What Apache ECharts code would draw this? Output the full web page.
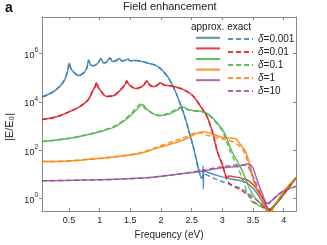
<!DOCTYPE html>
<html><head><meta charset="utf-8">
<script src="https://cdn.jsdelivr.net/npm/echarts@6/dist/echarts.min.js"></script>
<style>html,body{margin:0;padding:0;background:#fff}#c{width:327px;height:245px}</style>
</head><body><div id="c"></div>
<script>
// ---- data ----
const xTicks = [0.5, 1, 1.5, 2, 2.5, 3, 3.5, 4];
const yTicks = [1, 100, 1e4, 1e6];
const deltas = ['0.001', '0.01', '0.1', '1', '10'];

// delta = 0.001  ([frequency eV, |E/E0|])
const d001Common = [[0.06,1.6e4],[0.2,2.3e4],[0.3,3.4e4],[0.4,6.3e4],[0.45,1.1e5],[0.48,2.0e5],[0.505,4.0e5],[0.53,2.5e5],[0.57,1.8e5],[0.65,1.26e5],[0.74,1.6e5],[0.79,2.5e5],[0.82,5.4e5],[0.85,3.5e5],[0.9,3.2e5],[0.97,4.0e5],[1.02,6.3e5],[1.06,4.2e5],[1.1,4.3e5],[1.17,6.6e5],[1.21,4.7e5],[1.27,5.2e5],[1.32,6.3e5],[1.36,5.0e5],[1.42,5.4e5],[1.46,5.9e5],[1.5,5.1e5],[1.56,5.2e5],[1.6,5.2e5],[1.7,4.7e5],[1.8,4.0e5],[1.92,3.2e5],[2.0,2.3e5],[2.06,1.6e5],[2.13,9.3e4],[2.19,4.7e4],[2.26,1.9e4],[2.33,6.3e3],[2.4,1.9e3],[2.46,540],[2.52,160],[2.57,47],[2.62,14],[2.66,7.1]];
const d001ApproxTail = [[2.68,8.9],[2.685,22],[2.69,2.5],[2.7,14],[2.73,13],[2.95,8.5],[3.16,6.3],[3.38,4.7],[3.51,2.5],[3.62,1.0],[3.7,0.54],[3.76,0.34],[3.84,0.47],[3.97,1.2],[4.2,7.5]];
const d001ExactTail = [[2.68,7.9],[2.7,11],[2.73,10],[2.83,7.6],[2.95,5.6],[3.11,4.0],[3.32,2.5],[3.43,1.6],[3.55,0.9],[3.63,0.63],[3.72,0.36],[3.76,0.32],[3.84,0.47],[3.97,1.2],[4.2,7.5]];

// delta = 0.01
const d01Common = [[0.06,1.9e3],[0.19,2.1e3],[0.35,2.7e3],[0.51,4.0e3],[0.67,6.3e3],[0.81,1.2e4],[0.89,3.0e4],[0.93,4.5e4],[0.945,6.3e4],[0.97,4.5e4],[1.0,3.3e4],[1.11,1.7e4],[1.24,1.9e4],[1.35,3.4e4],[1.42,5.6e4],[1.44,7.4e4],[1.48,5.2e4],[1.59,3.6e4],[1.71,4.8e4],[1.77,7.4e4],[1.81,5.2e4],[1.88,4.3e4],[1.95,5.2e4],[1.99,6.3e4],[2.05,5.0e4],[2.14,4.7e4],[2.22,4.3e4],[2.35,3.4e4],[2.51,1.9e4],[2.65,6.3e3],[2.75,2.5e3],[2.84,540],[2.92,85],[3.0,25]];
const d01ApproxTail = [[3.08,7.4],[3.11,8.5],[3.2,7.9],[3.32,6.8],[3.43,5.4],[3.56,2.5],[3.68,0.83],[3.76,0.36],[3.84,0.5],[3.97,1.2],[4.2,7.1]];
const d01ExactTail = [[3.08,5.6],[3.16,3.4],[3.27,2.5],[3.43,1.35],[3.51,0.74],[3.62,0.5],[3.72,0.35],[3.76,0.32],[3.84,0.5],[3.97,1.2],[4.2,7.1]];

// delta = 0.1
const d1Approx = [[0.06,230],[0.19,250],[0.46,300],[0.73,400],[1.0,580],[1.27,1000],[1.49,2.5e3],[1.62,5.4e3],[1.7,7.8e3],[1.78,4.7e3],[1.97,2.7e3],[2.13,3.2e3],[2.27,4.7e3],[2.35,6.3e3],[2.46,4.7e3],[2.57,4.3e3],[2.68,4.0e3],[2.78,3.0e3],[2.89,1.6e3],[3.03,540],[3.16,85],[3.3,19],[3.38,6.3],[3.43,3.0],[3.54,1.0],[3.67,0.47],[3.76,0.32],[3.84,0.47],[3.97,1.2],[4.2,7.1]];
const d1Exact = [[0.06,230],[0.19,250],[0.46,300],[0.73,410],[1.0,600],[1.27,1.1e3],[1.49,2.9e3],[1.6,6.0e3],[1.67,8.3e3],[1.75,5.0e3],[1.95,2.8e3],[2.12,3.4e3],[2.25,5.0e3],[2.32,6.0e3],[2.43,4.7e3],[2.57,4.2e3],[2.68,3.8e3],[2.78,2.8e3],[2.86,1.8e3],[3.0,630],[3.12,100],[3.25,20],[3.33,6.3],[3.4,2.0],[3.47,0.8],[3.55,0.56],[3.65,0.45],[3.72,0.35],[3.76,0.32],[3.84,0.47],[3.97,1.2],[4.2,7.1]];

// delta = 1
const d10Approx = [[0.06,34],[0.19,34],[0.73,40],[1.27,54],[1.65,74],[1.92,120],[2.19,190],[2.41,300],[2.57,490],[2.7,580],[2.84,470],[3.0,340],[3.22,300],[3.27,210],[3.38,85],[3.46,19],[3.54,3.4],[3.62,1.0],[3.7,0.4],[3.77,0.25],[3.87,0.63],[4.03,2.5],[4.2,7.1]];
const d10Exact = [[0.06,34],[0.19,34],[0.73,40],[1.27,55],[1.65,78],[1.92,130],[2.19,230],[2.41,360],[2.59,540],[2.75,420],[3.0,290],[3.16,230],[3.32,120],[3.43,25],[3.51,5.4],[3.6,1.35],[3.68,0.47],[3.77,0.25],[3.87,0.63],[4.03,2.5],[4.2,7.1]];

// delta = 10
const d100Approx = [[0.06,5.4],[0.73,5.8],[1.27,6.3],[1.81,7.4],[2.24,10],[2.62,13],[3.0,19],[3.27,22],[3.41,27],[3.49,20],[3.57,5.4],[3.65,1.6],[3.73,0.63],[3.81,0.85],[3.97,1.9],[4.2,3.2]];
const d100Exact = [[0.06,5.4],[0.73,5.8],[1.27,6.3],[1.81,7.4],[2.24,10],[2.62,14],[3.0,21],[3.2,24],[3.33,25],[3.42,20],[3.52,6.3],[3.6,2.0],[3.7,0.7],[3.76,0.63],[3.81,0.85],[3.97,1.9],[4.2,3.2]];

const colors = ['#377eb8', '#e41a1c', '#4daf4a', '#ff7f00', '#984ea3'];

// ---- chart ----
const approxData = [d001Common.concat(d001ApproxTail), d01Common.concat(d01ApproxTail), d1Approx, d10Approx, d100Approx];
const exactData = [d001Common.concat(d001ExactTail), d01Common.concat(d01ExactTail), d1Exact, d10Exact, d100Exact];

const FONT = '"Liberation Sans", Arial, sans-serif';
const series = [];
deltas.forEach((d, i) => {
  series.push({
    name: 'approx δ=' + d, type: 'line', data: approxData[i], symbol: 'none', smooth: 0.3,
    lineStyle: { color: colors[i], width: 1.5, opacity: 0.85 }, itemStyle: { color: colors[i] }, z: 2
  });
  series.push({
    name: 'δ=' + d, type: 'line', data: exactData[i], symbol: 'none', smooth: 0.3,
    lineStyle: { color: colors[i], width: 1.5, type: [5, 3], opacity: 0.85 }, itemStyle: { color: colors[i] }, z: 3
  });
});

const supMap = {0: '0', 2: '2', 4: '4', 6: '6'};
const chart = echarts.init(document.getElementById('c'), null, { renderer: 'canvas' });
chart.setOption({
  animation: false,
  backgroundColor: '#fff',
  textStyle: { fontFamily: FONT },
  title: { text: 'Field enhancement', left: 123, top: 1, padding: 0,
    textStyle: { fontSize: 11, fontWeight: 'normal', color: '#222', fontFamily: FONT } },
  grid: { left: 42, right: 31, top: 17, bottom: 27, containLabel: false },
  legend: [
    { data: deltas.map(d => 'approx δ=' + d), orient: 'vertical', left: 195, top: 33, padding: 0,
      itemWidth: 24, itemHeight: 12, itemGap: 1, selectedMode: false, formatter: () => '',
      itemStyle: { opacity: 0 }, textStyle: { fontSize: 10, lineHeight: 12 } },
    { data: deltas.map(d => 'δ=' + d), orient: 'vertical', left: 227, top: 33, padding: 0,
      itemWidth: 25, itemHeight: 12, itemGap: 1, selectedMode: false,
      itemStyle: { opacity: 0 },
      formatter: n => '{i|δ}' + n.slice(1),
      textStyle: { fontSize: 10, lineHeight: 12, color: '#222', fontFamily: FONT,
        rich: { i: { fontStyle: 'italic', fontSize: 10, color: '#222', fontFamily: FONT } } } }
  ],
  xAxis: [
    { type: 'value', min: 0.06, max: 4.2, position: 'bottom',
      name: 'Frequency (eV)', nameLocation: 'middle', nameGap: 14,
      nameTextStyle: { fontSize: 10, color: '#222', fontFamily: FONT },
      axisLine: { show: true, lineStyle: { color: '#888', width: 1 } },
      axisTick: { show: true, inside: true, length: 3, customValues: xTicks, lineStyle: { color: '#888' } },
      axisLabel: { customValues: xTicks, fontSize: 9, color: '#222', margin: 5, fontFamily: FONT },
      splitLine: { show: false } },
    { type: 'value', min: 0.06, max: 4.2, position: 'top',
      axisLine: { show: true, lineStyle: { color: '#888', width: 1 } },
      axisTick: { show: true, inside: true, length: 3, customValues: xTicks, lineStyle: { color: '#888' } },
      axisLabel: { show: false }, splitLine: { show: false } }
  ],
  yAxis: [
    { type: 'log', logBase: 10, min: 0.302, max: 3.31e7, position: 'left',
      axisLine: { show: true, lineStyle: { color: '#888', width: 1 } },
      axisTick: { show: true, inside: false, length: 3, customValues: yTicks, lineStyle: { color: '#888' } },
      axisLabel: { customValues: yTicks, margin: 4, color: '#222', fontFamily: FONT,
        formatter: v => '{b|10}{s|' + supMap[Math.round(Math.log10(v))] + '}',
        rich: { b: { fontSize: 9, color: '#222', fontFamily: FONT, verticalAlign: 'bottom', lineHeight: 13 },
                s: { fontSize: 6.5, color: '#222', fontFamily: FONT, verticalAlign: 'top', lineHeight: 13 } } },
      splitLine: { show: false } },
    { type: 'log', logBase: 10, min: 0.302, max: 3.31e7, position: 'right',
      axisLine: { show: true, lineStyle: { color: '#888', width: 1 } },
      axisTick: { show: true, inside: true, length: 3, customValues: yTicks, lineStyle: { color: '#888' } },
      axisLabel: { show: false }, splitLine: { show: false } }
  ],
  graphic: [
    { type: 'text', x: 5, y: 8, style: { text: 'a', font: 'bold 14px ' + FONT, fill: '#111', verticalAlign: 'middle' } },
    { type: 'text', x: 191, y: 27, style: { text: 'approx. exact', font: '10px ' + FONT, fill: '#222', verticalAlign: 'middle' } },
    { type: 'text', x: 10, y: 127, rotation: Math.PI / 2,
      style: { text: '|E/E₀|', font: '11px ' + FONT, fill: '#222', align: 'center', verticalAlign: 'middle' } }
  ],
  series: series
});
</script></body></html>
